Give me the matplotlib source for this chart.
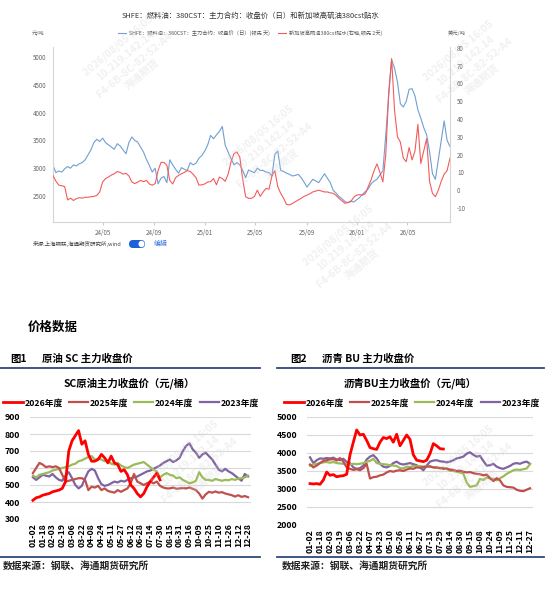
import matplotlib
matplotlib.use('Agg')
import matplotlib.pyplot as plt
from matplotlib.lines import Line2D
from matplotlib.patches import FancyBboxPatch, Circle
import numpy as np
import pandas as pd

plt.rcParams['font.family'] = ['Noto Sans CJK SC', 'DejaVu Sans']
plt.rcParams['axes.unicode_minus'] = False

# ---- top chart: fuel oil 380CST close (yuan/t) and Singapore HSFO 380cst spread (usd/t), weekly
fuel_oil = [3050, 2920, 2950, 2930, 2990, 3030, 3000, 3060, 3040, 3080,
            3100, 3150, 3240, 3330, 3460, 3520, 3480, 3540, 3460, 3420,
            3380, 3340, 3440, 3400, 3330, 3260, 3460, 3560, 3500, 3470,
            3380, 3290, 3160, 3050, 2930, 3000, 2720, 2820, 2850, 2740,
            3150, 3060, 2980, 2910, 3010, 2980, 2960, 3100, 3060, 3090,
            3180, 3230, 3310, 3420, 3590, 3530, 3600, 3660, 3750, 3410,
            3290, 3170, 3060, 3100, 3060, 2960, 2830, 2970, 2940, 2920,
            3000, 2960, 2960, 2930, 2920, 2860, 3250, 3310, 2960, 2940,
            2910, 2890, 2860, 2870, 2890, 2830, 2750, 2660, 2730, 2800,
            2770, 2740, 2820, 2900, 2820, 2740, 2600, 2550, 2490, 2450,
            2400, 2380, 2410, 2390, 2430, 2470, 2530, 2580, 2630, 2720,
            2770, 2800, 2880, 2950, 3600, 4300, 4950, 4800, 4550, 4160,
            4100, 4200, 4420, 4430, 4300, 4050, 3900, 3730, 3600, 3300,
            2900, 2800, 3150, 3500, 3850, 3500, 3390]
hsfo_spread = [8.3, 5, 2.8, 2.5, 2, -5.5, -4.5, -5.8, -4.8, -4.2,
               -4.5, -4, -4, -3.7, -3.5, -3, -1, 4.6, 6.5, 7.4,
               8.5, 9.2, 10.5, 10, 9, 9.5, 8, 4.6, 3.7, 4.5,
               5.5, 4.8, 5.5, 3.5, 2.8, 3.7, 11, 15.6, 15.6, 14,
               5.5, 3.5, 7, 8.3, 9.2, 10, 11, 10.5, 9, 7,
               2.8, 3, 3.5, 4.6, 4.8, 6.5, 3, 7.4, 6.5, 5,
               9, 16, 20.5, 21.5, 18.5, 6, -3.7, -4.6, -4.6, -3.5,
               0, -3.5, -1, 1, 0.5, 8, 11, 2, -1.8, -4.6,
               -8, -8.3, -7.5, -6.5, -5.5, -4.6, -3.5, -2.8, -2, -1,
               -0.5, 0, -0.5, -1, -1, -1.5, -1.8, -3, -4.6, -6,
               -7.4, -7, -6.5, -4, -2.8, -2.5, -2.8, -2, 2, 6,
               11, 14.8, 10, 4.6, 20, 55, 74, 45, 30, 27,
               18, 16, 24, 17, 22, 37, 15, 22, 29, 5,
               -1.8, -3.7, 0, 5, 9, 11, 18]
top_xticks = ['2024-05-01', '2024-09-01', '2025-01-01', '2025-05-01',
              '2025-09-01', '2026-01-01', '2026-05-01']
top_xlabels = ['24/05', '24/09', '25/01', '25/05', '25/09', '26/01', '26/05']

# ---- seasonal charts (3 points per tick step)
sc_labels = ['01-02', '01-18', '02-03', '02-19', '03-06', '03-22', '04-08', '04-24',
             '05-11', '05-27', '06-12', '06-28', '07-14', '07-30', '08-15', '08-31',
             '09-16', '10-09', '10-25', '11-10', '11-26', '12-12', '12-28']
sc_2026 = [410, 425, 430, 440, 445, 450, 460, 465, 470, 480, 520, 700, 760, 790,
           820, 740, 760, 680, 640, 640, 650, 680, 660, 630, 670, 630, 620, 580,
           590, 560, 500, 480, 450, 430, 450, 490, 520, 545, 570, 530]
sc_2025 = [570, 600, 630, 620, 605, 610, 605, 610, 600, 560, 520, 525, 530, 535,
           540, 540, 530, 470, 490, 485, 495, 470, 480, 465, 460, 455, 470, 460,
           470, 480, 510, 565, 520, 510, 500, 510, 520, 510, 520, 495, 485, 480,
           480, 485, 478, 480, 482, 480, 485, 478, 470, 450, 420, 445, 460, 455,
           462, 455, 458, 450, 445, 440, 432, 440, 430, 435, 428]
sc_2024 = [555, 545, 560, 565, 570, 575, 585, 590, 595, 600, 605, 610, 620, 625,
           640, 645, 655, 665, 670, 650, 655, 650, 640, 645, 625, 620, 630, 615,
           605, 600, 610, 620, 625, 630, 635, 620, 605, 590, 580, 545, 560, 570,
           560, 555, 540, 545, 530, 520, 510, 515, 525, 575, 545, 530, 530, 525,
           535, 530, 525, 530, 528, 535, 530, 538, 540, 545, 555]
sc_2023 = [545, 530, 545, 560, 555, 550, 565, 545, 530, 525, 555, 575, 540, 500,
           480, 495, 540, 580, 595, 585, 540, 505, 495, 500, 510, 520, 515, 525,
           520, 530, 540, 545, 550, 560, 570, 580, 585, 595, 605, 615, 630, 640,
           650, 635, 645, 660, 700, 730, 745, 710, 690, 660, 680, 690, 670, 650,
           620, 590, 580, 595, 580, 570, 555, 540, 525, 565, 550]

bu_labels = ['01-02', '01-18', '02-03', '02-19', '03-06', '03-22', '04-07', '04-23',
             '05-10', '05-26', '06-11', '06-27', '07-13', '07-29', '08-14', '08-30',
             '09-15', '10-08', '10-24', '11-09', '11-25', '12-11', '12-27']
bu_2026 = [3150, 3140, 3150, 3130, 3250, 3470, 3380, 3400, 3340, 3360, 3370, 3410,
           3950, 4300, 4640, 4500, 4520, 4350, 4150, 4120, 4100, 4300, 4430, 4400,
           4450, 4300, 4520, 4200, 4350, 4500, 4380, 3950, 3800, 3780, 3760, 3800,
           3980, 4260, 4200, 4120, 4110]
bu_2025 = [3680, 3600, 3650, 3720, 3780, 3800, 3820, 3830, 3790, 3860, 3760, 3600,
           3560, 3530, 3550, 3520, 3580, 3700, 3290, 3330, 3340, 3380, 3400, 3460,
           3500, 3480, 3510, 3520, 3500, 3540, 3570, 3560, 3600, 3590, 3610, 3620,
           3630, 3600, 3590, 3580, 3560, 3570, 3540, 3530, 3500, 3510, 3480, 3460,
           3470, 3440, 3420, 3410, 3380, 3400, 3300, 3220, 3300, 3240, 3100, 3060,
           3050, 3040, 2980, 2950, 2940, 2980, 3020]
bu_2024 = [3650, 3680, 3700, 3720, 3740, 3750, 3730, 3750, 3720, 3710, 3700, 3690,
           3680, 3700, 3690, 3700, 3720, 3760, 3780, 3840, 3720, 3700, 3690, 3680,
           3660, 3650, 3640, 3580, 3570, 3620, 3610, 3640, 3630, 3640, 3620, 3630,
           3620, 3600, 3610, 3580, 3590, 3560, 3510, 3500, 3480, 3460, 3430, 3180,
           3060, 3080, 3100, 3280, 3250, 3320, 3300, 3280, 3240, 3300, 3350, 3420,
           3470, 3520, 3540, 3530, 3550, 3570, 3690]
bu_2023 = [3880, 3720, 3800, 3850, 3840, 3860, 3850, 3870, 3820, 3800, 3840, 3750,
           3720, 3600, 3560, 3580, 3650, 3820, 3900, 3940, 3850, 3700, 3620, 3600,
           3640, 3720, 3760, 3700, 3680, 3700, 3720, 3690, 3660, 3600, 3520, 3650,
           3760, 3790, 3800, 3770, 3760, 3740, 3760, 3800, 3850, 3870, 3900, 3980,
           4020, 3950, 3900, 3920, 3780, 3650, 3660, 3700, 3620, 3580, 3560, 3600,
           3640, 3700, 3720, 3700, 3740, 3760, 3700]

years = ['2026年度', '2025年度', '2024年度', '2023年度']
year_colors = ['#ff0000', '#c0504d', '#9bbb59', '#8064a2']

W, H = 550, 597
fig = plt.figure(figsize=(5.5, 5.97), dpi=100)
fig.patch.set_facecolor('white')


def box(x0, y0, x1, y1):
    return [x0 / W, 1 - y1 / H, (x1 - x0) / W, (y1 - y0) / H]


def fx(x):
    return x / W


def fy(y):
    return 1 - y / H


# ================= top chart =================
ax = fig.add_axes(box(53, 47, 450, 222))
dates = pd.date_range('2024-01-02', periods=len(fuel_oil), freq='7D')
l1, = ax.plot(dates, fuel_oil, color='#6f9fd3', lw=0.8)
ax.set_xlim(dates[0], dates[-1])
ax.set_ylim(2032, 5180)
ax.set_yticks([2500, 3000, 3500, 4000, 4500, 5000])
ax.set_xticks(pd.to_datetime(top_xticks))
ax.set_xticklabels(top_xlabels)
ax.tick_params(axis='y', length=0, labelsize=4.5, labelcolor='#666666', pad=5)
ax.tick_params(axis='x', length=2, color='#cccccc', labelsize=4.5, labelcolor='#666666', pad=3)
for s in ['top', 'right']:
    ax.spines[s].set_visible(False)
for s in ['left', 'bottom']:
    ax.spines[s].set_color('#d5d5d5')

ax2 = ax.twinx()
l2, = ax2.plot(dates, hsfo_spread, color='#f45b5b', lw=0.8)
ax2.set_ylim(-17.9, 80.5)
ax2.set_yticks(range(-10, 81, 10))
ax2.tick_params(axis='y', length=0, labelsize=4.5, labelcolor='#666666', pad=5)
for s in ['top', 'left', 'bottom']:
    ax2.spines[s].set_visible(False)
ax2.spines['right'].set_color('#d5d5d5')

fig.text(fx(250), fy(16), 'SHFE：燃料油：380CST：主力合约：收盘价（日）和新加坡高硫油380cst贴水',
         ha='center', va='center', fontsize=5.3, color='#333333')
fig.text(fx(38), fy(33), '元/吨', ha='center', va='center', fontsize=3.8, color='#666666')
fig.text(fx(457), fy(33), '美元/吨', ha='center', va='center', fontsize=3.8, color='#666666')
ax.legend([l1, l2], ['SHFE：燃料油：380CST：主力合约：收盘价（日）(领先 天)',
                     '新加坡高硫油380cst贴水(右轴,领先 2天)'],
          loc='center', bbox_to_anchor=(fx(250), fy(33)), bbox_transform=fig.transFigure,
          ncol=2, frameon=False, fontsize=3.8, handlelength=1.6, columnspacing=1.5,
          handletextpad=0.5, labelcolor='#555555')

fig.text(fx(33), fy(244), '来源:上海钢联,海通期货研究所,wind', ha='left', va='center',
         fontsize=4, color='#444444')
fig.add_artist(FancyBboxPatch((fx(129), fy(248)), fx(16), 8 / H,
                              boxstyle='round,pad=0,rounding_size=0.007',
                              transform=fig.transFigure, facecolor='#1f5fd8', edgecolor='none'))
fig.add_artist(Circle((fx(141.5), fy(244)), 3 / W, transform=fig.transFigure,
                      facecolor='white', edgecolor='none'))
fig.text(fx(154), fy(244), '编辑', ha='left', va='center', fontsize=5, color='#2f6fe0')

# ================= section heading =================
fig.text(fx(28), fy(327), '价格数据', ha='left', va='center', fontsize=9, fontweight='bold')
fig.text(fx(10), fy(359), '图1', ha='left', va='center', fontsize=7.5, fontweight='bold')
fig.text(fx(42), fy(359), '原油 SC 主力收盘价', ha='left', va='center', fontsize=7.5, fontweight='bold')
fig.text(fx(290), fy(359), '图2', ha='left', va='center', fontsize=7.5, fontweight='bold')
fig.text(fx(322), fy(359), '沥青 BU 主力收盘价', ha='left', va='center', fontsize=7.5, fontweight='bold')
for x0, x1 in [(0, 260), (277, 544)]:
    fig.add_artist(Line2D([fx(x0), fx(x1)], [fy(368), fy(368)], color='#2e4a7a', lw=1.3))
    fig.add_artist(Line2D([fx(x0), fx(x1)], [fy(557), fy(557)], color='#2e4a7a', lw=1.3))
fig.text(fx(3), fy(566), '数据来源：钢联、海通期货研究所', ha='left', va='center', fontsize=7,
         fontweight='bold', color='#222222')
fig.text(fx(282), fy(566), '数据来源：钢联、海通期货研究所', ha='left', va='center', fontsize=7,
         fontweight='bold', color='#222222')


def season_chart(rect, labels, series, ylim, yticks, title, cx):
    a = fig.add_axes(rect)
    handles = []
    for vals, name, col in list(zip(series, years, year_colors))[::-1]:
        lw = 2.0 if name == '2026年度' else 1.6
        h, = a.plot(np.arange(len(vals)) / 3, vals, color=col, lw=lw, label=name)
        handles.append(h)
    handles = handles[::-1]
    a.set_xlim(-0.3, 22.3)
    a.set_ylim(*ylim)
    a.set_yticks(yticks)
    a.set_xticks(range(len(labels)))
    a.set_xticklabels(labels, rotation=90)
    a.tick_params(axis='both', length=0, labelsize=6.3, pad=3)
    a.tick_params(axis='y', pad=7)
    plt.setp(a.get_xticklabels() + a.get_yticklabels(), fontweight='bold')
    a.yaxis.grid(True, color='#d9d9d9', lw=0.8)
    a.set_axisbelow(True)
    for s in a.spines.values():
        s.set_visible(False)
    fig.text(fx(cx), fy(383), title, ha='center', va='center', fontsize=7.5, fontweight='bold')
    a.legend(handles, years, loc='center', bbox_to_anchor=(fx(cx + 2), fy(403)),
             bbox_transform=fig.transFigure, ncol=4, frameon=False,
             prop={'size': 6.3, 'weight': 'bold'}, handlelength=2.2,
             handletextpad=0.2, columnspacing=0.7)
    return a


season_chart(box(30, 417, 251, 519), sc_labels, [sc_2026, sc_2025, sc_2024, sc_2023],
             (300, 900), range(300, 901, 100), 'SC原油主力收盘价（元/桶）', 129)
season_chart(box(307, 417, 533, 525), bu_labels, [bu_2026, bu_2025, bu_2024, bu_2023],
             (2000, 5000), range(2000, 5001, 500), '沥青BU主力收盘价（元/吨）', 410)

# ================= watermarks (faint) =================
wm = '2026/08/05 16:05\n10.219.142.14\nF4-6B-8C-82-52-A4\n海通期货'
for x, y in [(130, 60), (270, 150), (470, 65), (350, 250), (195, 465), (470, 470)]:
    fig.text(fx(x), fy(y), wm, ha='center', va='center', rotation=40, fontsize=7.5,
             color='#d0d0d0', alpha=0.3, linespacing=1.3, fontweight='bold', zorder=10)

fig.savefig('out.png', dpi=100)
